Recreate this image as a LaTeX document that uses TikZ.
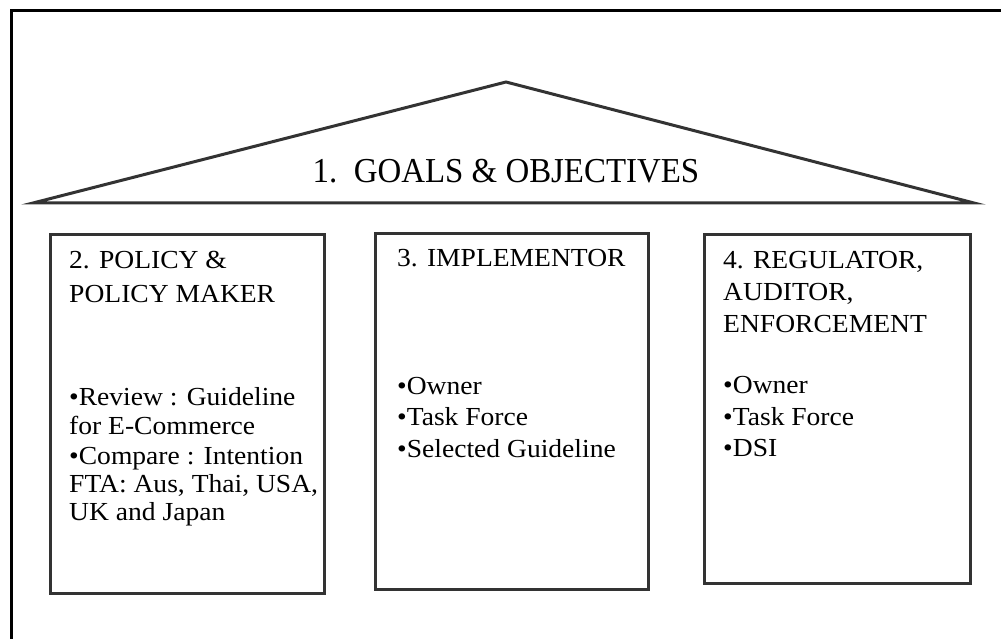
\documentclass[tikz,border=0pt]{standalone}
\usepackage{fontspec}
\setmainfont{Liberation Serif}[FakeStretch=1.06]
\newfontfamily\rooffont{Liberation Serif}[FakeStretch=0.94]
\usetikzlibrary{positioning}

\definecolor{edgegray}{HTML}{333333}

\tikzset{
  frame/.style={line width=3pt, draw=black},
  roofline/.style={line width=3pt, draw=edgegray, line join=miter},
  pillar/.style={draw=edgegray, line width=3pt, anchor=north west, inner sep=0pt},
  paneltext/.style={inner sep=0pt, align=left, font=\fontsize{26}{32}\selectfont},
  goaltext/.style={inner sep=0pt, anchor=base, font=\rooffont\fontsize{35}{35}\selectfont}
}

\begin{document}
\begin{tikzpicture}[x=1pt,y=-1pt]
    \useasboundingbox (0,0) rectangle (1001,639);
    % outer frame, open at right and bottom
    \draw[frame] (11,639) -- (11,11) -- (1001,11);

    % roof (eaves pulled in so the mitred tips end where they should)
    \coordinate (apex)  at (506,82);
    \coordinate (eaveL) at (33,203);
    \coordinate (eaveR) at (974,203);
    \draw[roofline] (eaveL) -- (apex) -- (eaveR) -- cycle;
    \node[goaltext] (goals) at (506,183) {1.\ \ GOALS \& OBJECTIVES};

    % the three pillars
    \node[pillar, minimum width=274pt, minimum height=359pt] (policy)    at (49,233)  {};
    \node[pillar, minimum width=273pt, minimum height=356pt] (implement) at (374,232) {};
    \node[pillar, minimum width=266pt, minimum height=349pt] (regulate)  at (703,233) {};

    \node[paneltext, below right=18pt and 20pt of policy.north west] (policytxt)
      {2. POLICY \&\\[2pt]POLICY MAKER\\[71pt]
       •Review : Guideline\\[-3pt]for E-Commerce\\[-2pt]
       •Compare : Intention\\[-4pt]FTA: Aus, Thai, USA,\\[-4pt]UK and Japan};
    \node[paneltext, below right=17pt and 23pt of implement.north west] (implementtxt)
      {3. IMPLEMENTOR\\[96pt]
       •Owner\\[-1pt]•Task Force\\[0pt]•Selected Guideline};
    \node[paneltext, below right=18pt and 20pt of regulate.north west] (regulatetxt)
      {4. REGULATOR,\\AUDITOR,\\ENFORCEMENT\\[29pt]
       •Owner\\•Task Force\\[-1pt]•DSI};
\end{tikzpicture}
\end{document}
